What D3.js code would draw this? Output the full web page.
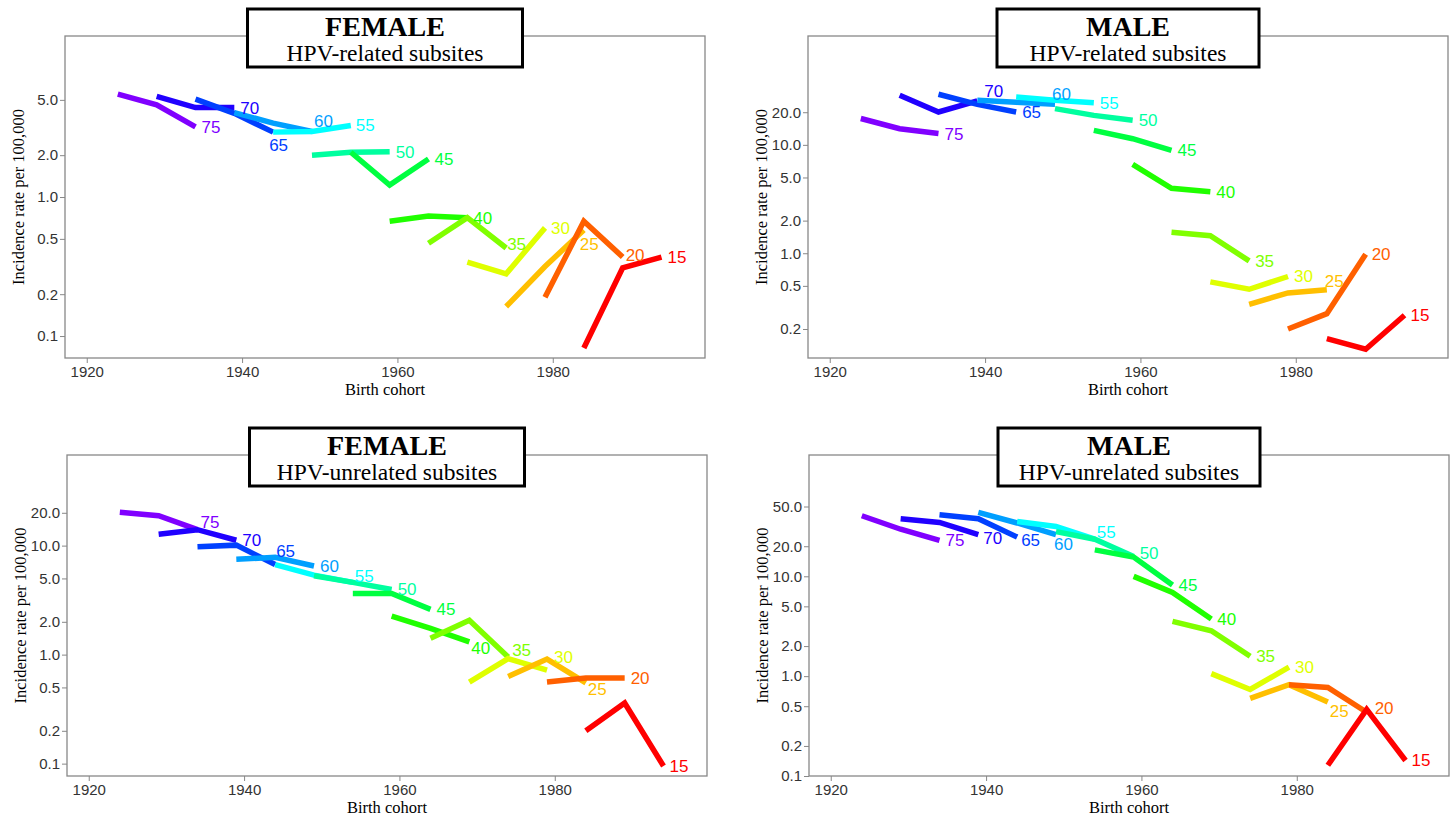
<!DOCTYPE html>
<html>
<head>
<meta charset="utf-8">
<script src="https://cdn.jsdelivr.net/npm/d3@7"></script>
<style>
  body { margin: 0; background: #fff; }
</style>
</head>
<body>
<div id="chart"></div>
<script>
// age groups, drawn from oldest to youngest
const ages = [75, 70, 65, 60, 55, 50, 45, 40, 35, 30, 25, 20, 15];

// birth cohorts for each age group (one per period)
const cohorts = [
    [1924, 1929, 1934], [1929, 1934, 1939], [1934, 1939, 1944], [1939, 1944, 1949],
    [1944, 1949, 1954], [1949, 1954, 1959], [1954, 1959, 1964], [1959, 1964, 1969],
    [1964, 1969, 1974], [1969, 1974, 1979], [1974, 1979, 1984], [1979, 1984, 1989],
    [1984, 1989, 1994]
];

// incidence rate per 100,000, one row per age group
const femaleRelated = [
    [5.5, 4.6, 3.2], [5.3, 4.4, 4.4], [5.06, 4.0, 2.93], [4.05, 3.4, 2.96],
    [2.93, 2.96, 3.27], [2.0, 2.1, 2.12], [2.1, 1.22, 1.88], [0.67, 0.73, 0.71],
    [0.465, 0.71, 0.43], [0.34, 0.28, 0.6], [0.163, 0.316, 0.58], [0.19, 0.67, 0.37],
    [0.082, 0.31, 0.37]
];
const maleRelated = [
    [17.5, 14.1, 12.7], [28.7, 20.1, 25.4], [29.3, 23.6, 20.1], [25.8, 24.7, 23.7],
    [27.7, 25.8, 24.4], [21.6, 18.7, 16.9], [13.6, 11.4, 8.9], [6.6, 3.98, 3.7],
    [1.56, 1.45, 0.85], [0.544, 0.465, 0.61], [0.338, 0.43, 0.46], [0.2, 0.277, 0.98],
    [0.163, 0.13, 0.268]
];
const femaleUnrelated = [
    [20.2, 18.8, 14.0], [12.7, 14.0, 11.2], [9.75, 10.1, 6.7], [7.5, 7.8, 6.5],
    [6.7, 5.36, 4.6], [5.3, 4.6, 3.96], [3.64, 3.64, 2.6], [2.25, 1.74, 1.31],
    [1.41, 2.07, 0.95], [0.56, 0.92, 0.72], [0.63, 0.91, 0.55], [0.56, 0.61, 0.61],
    [0.2, 0.36, 0.095]
];
const maleUnrelated = [
    [40.4, 29.6, 22.9], [37.7, 34.6, 26.1], [41.3, 37.7, 24.7], [43.6, 34.2, 26.1],
    [35.4, 31.6, 23.6], [28, 23.5, 15.8], [18.4, 15.6, 8.2], [9.98, 6.9, 3.74],
    [3.54, 2.85, 1.58], [1.06, 0.735, 1.23], [0.6, 0.82, 0.55], [0.82, 0.77, 0.435],
    [0.128, 0.465, 0.143]
];

const xTicks = [1920, 1940, 1960, 1980];

// rainbow colours, one per age group
const colors = ["#8000ff", "#2000ff", "#0040ff", "#009fff", "#00ffff", "#00ff9f",
    "#00ff40", "#20ff00", "#80ff00", "#dfff00", "#ffbf00", "#ff6000", "#ff0000"];

const panels = [
    { data: femaleRelated, sex: "FEMALE", sub: "HPV-related subsites",
      left: 65, top: 36, right: 705, bottom: 358, yDomain: [0.0695, 14.4],
      yTicks: [0.1, 0.2, 0.5, 1, 2, 5], boxW: 275,
      nudge: { 65: [-4, 13], 60: [2, -10], 35: [1, -4], 25: [-4, 14], 20: [3, -2], 55: [5, 0] } },
    { data: maleRelated, sex: "MALE", sub: "HPV-related subsites",
      left: 808, top: 36, right: 1448, bottom: 358, yDomain: [0.108, 101],
      yTicks: [0.2, 0.5, 1, 2, 5, 10, 20], boxW: 262,
      nudge: { 70: [7, -10], 60: [-3, -10], 25: [-2, -9] } },
    { data: femaleUnrelated, sex: "FEMALE", sub: "HPV-unrelated subsites",
      left: 67, top: 455, right: 707, bottom: 776, yDomain: [0.077, 67.8],
      yTicks: [0.1, 0.2, 0.5, 1, 2, 5, 10, 20], boxW: 275,
      nudge: { 75: [3, -8], 65: [1, -14], 55: [2, -6], 40: [2, 6], 35: [4, -7], 30: [7, -13], 25: [2, 6] } },
    { data: maleUnrelated, sex: "MALE", sub: "HPV-unrelated subsites",
      left: 809, top: 455, right: 1449, bottom: 776, yDomain: [0.1, 164],
      yTicks: [0.1, 0.2, 0.5, 1, 2, 5, 10, 20, 50], boxW: 262,
      nudge: { 70: [5, 3], 65: [4, 3], 60: [-2, 9], 55: [2, -7], 50: [6, -3], 25: [2, 9], 20: [8, -4] } }
];

const svg = d3.select("#chart")
    .append("svg")
    .attr("width", 1451)
    .attr("height", 818);

function drawPanel(p) {
    const g = svg.append("g");
    const width = p.right - p.left;
    const height = p.bottom - p.top;

    const xScale = d3.scaleLinear()
        .domain([1917.2, 1999.6])
        .range([p.left, p.right]);

    const yScale = d3.scaleLog()
        .domain(p.yDomain)
        .range([p.bottom, p.top]);

    // axes
    const xAxis = g.append("g")
        .attr("transform", `translate(0, ${p.bottom})`)
        .call(d3.axisBottom(xScale).tickValues(xTicks).tickFormat(d3.format("d")).tickSize(5).tickPadding(3));

    const yAxis = g.append("g")
        .attr("transform", `translate(${p.left}, 0)`)
        .call(d3.axisLeft(yScale).tickValues(p.yTicks).tickFormat(d3.format(".1f")).tickSize(5).tickPadding(2));

    [xAxis, yAxis].forEach(a => {
        a.select(".domain").remove();
        a.selectAll("line").attr("stroke", "#888");
        a.selectAll("text")
            .attr("fill", "#333")
            .style("font-family", "Arial, 'Liberation Sans', sans-serif")
            .style("font-size", "15px");
    });

    // frame
    g.append("rect")
        .attr("x", p.left)
        .attr("y", p.top)
        .attr("width", width)
        .attr("height", height)
        .attr("fill", "none")
        .attr("stroke", "#888")
        .attr("stroke-width", 1.3);

    const line = d3.line()
        .x(d => xScale(d[0]))
        .y(d => yScale(d[1]));

    ages.forEach((age, i) => {
        const pts = cohorts[i].map((c, j) => [c, p.data[i][j]]);
        g.append("path")
            .datum(pts)
            .attr("d", line)
            .attr("fill", "none")
            .attr("stroke", colors[i])
            .attr("stroke-width", 5.5)
            .attr("stroke-linejoin", "miter");
    });

    ages.forEach((age, i) => {
        const last = [cohorts[i][2], p.data[i][2]];
        const n = p.nudge[age] || [6, 0];
        g.append("text")
            .attr("x", xScale(last[0]) + n[0])
            .attr("y", yScale(last[1]) + n[1])
            .attr("dy", "0.35em")
            .attr("fill", colors[i])
            .style("font-family", "Arial, 'Liberation Sans', sans-serif")
            .style("font-size", "17px")
            .text(age);
    });

    // axis titles
    g.append("text")
        .attr("x", p.left + width / 2)
        .attr("y", p.bottom + 37)
        .attr("text-anchor", "middle")
        .style("font-family", "'Liberation Serif', 'Times New Roman', serif")
        .style("font-size", "16.5px")
        .text("Birth cohort");

    g.append("text")
        .attr("transform", "rotate(-90)")
        .attr("x", -(p.top + height / 2))
        .attr("y", p.left - 41)
        .attr("text-anchor", "middle")
        .style("font-family", "'Liberation Serif', 'Times New Roman', serif")
        .style("font-size", "16.5px")
        .text("Incidence rate per 100,000");

    // title box
    const cx = p.left + width / 2;
    const boxTop = p.top - 27;
    g.append("rect")
        .attr("x", cx - p.boxW / 2)
        .attr("y", boxTop)
        .attr("width", p.boxW)
        .attr("height", 58)
        .attr("fill", "#fff")
        .attr("stroke", "#000")
        .attr("stroke-width", 3);

    g.append("text")
        .attr("x", cx)
        .attr("y", boxTop + 27)
        .attr("text-anchor", "middle")
        .style("font-family", "'Liberation Serif', 'Times New Roman', serif")
        .style("font-weight", "bold")
        .style("font-size", "28px")
        .text(p.sex);

    g.append("text")
        .attr("x", cx)
        .attr("y", boxTop + 52)
        .attr("text-anchor", "middle")
        .style("font-family", "'Liberation Serif', 'Times New Roman', serif")
        .style("font-size", "23.5px")
        .text(p.sub);
}

panels.forEach(drawPanel);
</script>
</body>
</html>
